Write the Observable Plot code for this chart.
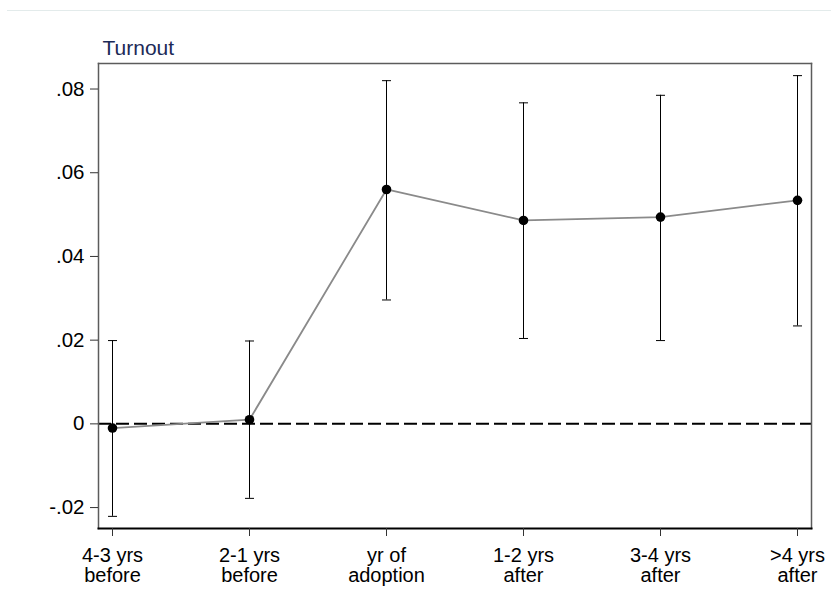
<!DOCTYPE html>
<html>
<head>
<meta charset="utf-8">
<script src="https://cdn.jsdelivr.net/npm/d3@7"></script>
<script src="https://cdn.jsdelivr.net/npm/@observablehq/plot@0.6"></script>
<style>
  html, body { margin: 0; padding: 0; background: #fff; }
  #wrap { position: relative; width: 831px; height: 603px; overflow: hidden; }
  #topline { position: absolute; top: 10px; left: 7px; right: 0; border-top: 1px solid #e3ebeb; }
  svg { display: block; }
</style>
</head>
<body>
<div id="wrap"><div id="topline"></div><div id="chart"></div></div>
<script>
const categories = ["4-3 yrs\nbefore", "2-1 yrs\nbefore", "yr of\nadoption", "1-2 yrs\nafter", "3-4 yrs\nafter", ">4 yrs\nafter"];
const estimates = [-0.001, 0.001, 0.056, 0.0486, 0.0494, 0.0534];
const lower = [-0.0221, -0.0178, 0.0296, 0.0204, 0.0199, 0.0234];
const upper = [0.0199, 0.0198, 0.0820, 0.0767, 0.0785, 0.0832];
const yTicks = [-0.02, 0, 0.02, 0.04, 0.06, 0.08];
const titleText = "Turnout";

const data = categories.map((c, i) => ({cat: c, est: estimates[i], lo: lower[i], hi: upper[i]}));

const capSymbol = {
  draw(ctx, size) {
    const w = Math.sqrt(size / Math.PI);
    ctx.moveTo(-w, 0);
    ctx.lineTo(w, 0);
  }
};

const fmt = d => d === 0 ? "0" : d3.format(".2f")(d).replace("\u2212", "-").replace("0.", ".");

const chart = Plot.plot({
  width: 831,
  height: 603,
  marginLeft: 98,
  marginRight: 20,
  marginTop: 63,
  marginBottom: 75,
  style: {fontFamily: "'Liberation Sans', Arial, sans-serif", background: "#fff", color: "#000"},
  x: {type: "point", domain: categories, padding: 0.09, label: null},
  y: {domain: [-0.025, 0.0861], label: null},
  marks: [
    Plot.ruleY([0], {stroke: "#000", strokeWidth: 2, strokeDasharray: "13,5"}),
    Plot.line(data, {x: "cat", y: "est", stroke: "#8a8a8a", strokeWidth: 1.8}),
    Plot.ruleX(data, {x: "cat", y1: "lo", y2: "hi", stroke: "#000", strokeWidth: 1}),
    Plot.dot(data, {x: "cat", y: "hi", symbol: capSymbol, r: 4.5, stroke: "#000", strokeWidth: 1}),
    Plot.dot(data, {x: "cat", y: "lo", symbol: capSymbol, r: 4.5, stroke: "#000", strokeWidth: 1}),
    Plot.dot(data, {x: "cat", y: "est", r: 4.8, fill: "#000", stroke: null}),
    Plot.frame({anchor: "top", stroke: "#5c5c5c", strokeWidth: 1.5}),
    Plot.frame({anchor: "left", stroke: "#5c5c5c", strokeWidth: 1.5}),
    Plot.frame({anchor: "right", stroke: "#5c5c5c", strokeWidth: 1.5}),
    Plot.frame({anchor: "bottom", stroke: "#000", strokeWidth: 2}),
    Plot.axisY({ticks: yTicks, tickFormat: fmt, tickSize: 8, tickPadding: 6, fontSize: 20.5, stroke: "#333"}),
    Plot.axisX({tickSize: 8, tickPadding: 11, fontSize: 20, lineHeight: 1.0, stroke: "#333"}),
    Plot.text([titleText], {frameAnchor: "top-left", dx: 4, dy: -9, lineAnchor: "bottom", textAnchor: "start", fontSize: 21, fill: "#1c2a57"})
  ]
});
document.getElementById("chart").appendChild(chart);
</script>
</body>
</html>
